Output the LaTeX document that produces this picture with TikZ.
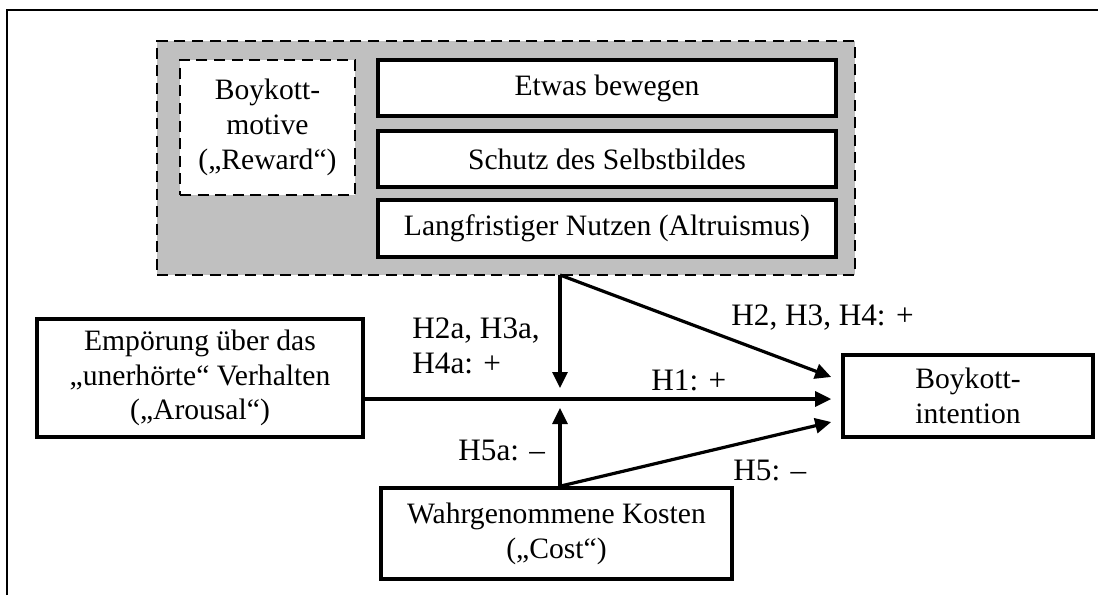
\documentclass[tikz,border=0pt]{standalone}
\usepackage{fontspec}
\setmainfont{Liberation Serif}
\usetikzlibrary{fit,calc,arrows.meta}
\definecolor{grpgray}{RGB}{192,192,192}
\begin{document}
\begin{tikzpicture}[x=0.5pt,y=-0.5pt,
  every node/.style={font=\fontsize{14.8}{17.4}\selectfont},
  box/.style={draw, line width=1.8pt, fill=white, inner sep=0pt, align=center},
  dashbox/.style={draw, line width=1.3pt, dash pattern=on 5.5pt off 3.3pt, inner sep=0pt, align=center},
  arr/.style={line width=1.6pt, -{Triangle[length=8pt,width=7.5pt]}},
  lbl/.style={anchor=base west, inner sep=0pt, font=\fontsize{15.6}{18}\selectfont}]
\useasboundingbox (0,0) rectangle (1098,595);
% outer frame (cropped)
\draw[line width=1pt] (6.5,595) -- (6.5,9.5) -- (1098,9.5);
% reward group
\node[dashbox, fill=grpgray, fit={(157,41) (855,275)}] (grp) {};
\node[dashbox, fill=white, fit={(180,60) (355,195)}] (mot) {};
\node[align=center, inner sep=0pt] (motl) at (mot.center) {Boykott-\\motive\\(„Reward“)};
\node[box, fit={(378,60) (836,116)}] (b1) {};
\node (b1l) at (b1.center) {Etwas bewegen};
\node[box, fit={(378,131) (836,187)}] (b2) {};
\node (b2l) at (b2.center) {Schutz des Selbstbildes};
\node[box, fit={(378,200) (836,257)}] (b3) {};
\node (b3l) at (b3.center) {Langfristiger Nutzen (Altruismus)};
% main nodes
\node[box, fit={(37,319) (363,437)}] (emp) {};
\node[align=center, inner sep=0pt] (empl) at (emp.center) {Empörung über das\\„unerhörte“ Verhalten\\(„Arousal“)};
\node[box, fit={(843,355) (1093,437)}] (bi) {};
\node[align=center, inner sep=0pt] (bil) at (bi.center) {Boykott-\\intention};
\node[box, fit={(381,488) (732,579)}] (kost) {};
\node[align=center, inner sep=0pt] (kostl) at (kost.center) {Wahrgenommene Kosten\\(„Cost“)};
% junctions
\coordinate (jt) at (560,275);
\coordinate (ja) at (560,388);
\coordinate (jb) at (560,408);
\coordinate (jk) at (kost.north -| jt);
% connectors
\draw[arr] (jt) -- (ja);
\draw[arr] (jt) -- ($(bi.west)+(-10,-19)$);
\draw[arr] (emp.east |- 0,399) -- ($(bi.west)+(-10,3)$);
\draw[arr] (jk) -- (jb);
\draw[arr] (jk) -- ($(bi.west)+(-10,26)$);
% labels
\node[lbl] (l1) at (412,338) {H2a, H3a,};
\node[lbl] (l2) at (412,373) {H4a: +};
\node[lbl] (l3) at (731,325) {H2, H3, H4: +};
\node[lbl] (l4) at (651,390) {H1: +};
\node[lbl] (l5) at (458,460) {H5a: –};
\node[lbl] (l6) at (733,480) {H5: –};
\end{tikzpicture}
\end{document}
